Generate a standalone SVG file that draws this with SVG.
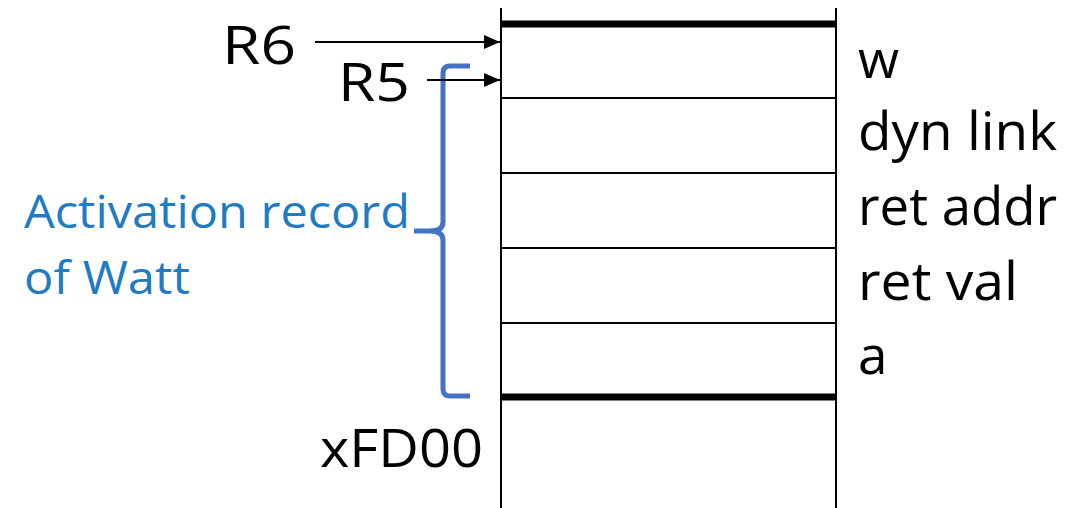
<svg xmlns="http://www.w3.org/2000/svg" width="1087" height="508" viewBox="0 0 1087 508">
<style>
.t{font-family:"Open Sans","Noto Sans","Liberation Sans",sans-serif;font-size:53px;fill:#000}
.b{font-family:"Open Sans","Noto Sans","Liberation Sans",sans-serif;font-size:46px;fill:#1f7bc4}
.thin{stroke:#000;stroke-width:2;fill:none}
.thick{stroke:#000;stroke-width:7;fill:none}
</style>
<defs>
<marker id="ah" markerWidth="16" markerHeight="14" refX="16" refY="7" orient="auto" markerUnits="userSpaceOnUse">
<path d="M0,0 L16,7 L0,14 Z" fill="#000"/>
</marker>
</defs>
<rect width="1087" height="508" fill="#fff"/>
<g id="stack">
<line class="thin" x1="501" y1="8" x2="501" y2="508"/>
<line class="thin" x1="836" y1="8" x2="836" y2="508"/>
<line class="thick" x1="501" y1="24" x2="836" y2="24"/>
<line class="thin" x1="501" y1="98" x2="836" y2="98"/>
<line class="thin" x1="501" y1="173" x2="836" y2="173"/>
<line class="thin" x1="501" y1="248" x2="836" y2="248"/>
<line class="thin" x1="501" y1="323" x2="836" y2="323"/>
<line class="thick" x1="501" y1="397" x2="836" y2="397"/>
</g>
<g id="labels">
<text class="t" x="858" y="78">w</text>
<text class="t" x="858" y="150" textLength="199" lengthAdjust="spacingAndGlyphs">dyn link</text>
<text class="t" x="858" y="225" textLength="199" lengthAdjust="spacingAndGlyphs">ret addr</text>
<text class="t" x="858" y="300" textLength="160" lengthAdjust="spacingAndGlyphs">ret val</text>
<text class="t" x="858" y="374">a</text>
<text class="t" x="222" y="64" textLength="74" lengthAdjust="spacingAndGlyphs">R6</text>
<text class="t" x="338" y="101" textLength="72" lengthAdjust="spacingAndGlyphs">R5</text>
<text class="t" x="320" y="467" textLength="163" lengthAdjust="spacingAndGlyphs">xFD00</text>
</g>
<g id="brace-label">
<path d="M470,66 L450,66 Q443,66 443,73 L443,222 Q443,231 430,231 L414,231 M430,231 Q443,231 443,240 L443,389 Q443,396 450,396 L470,396" fill="none" stroke="#4472c4" stroke-width="5"/>
<text class="b" x="24" y="228" textLength="386" lengthAdjust="spacingAndGlyphs">Activation record</text>
<text class="b" x="24" y="294" textLength="166" lengthAdjust="spacingAndGlyphs">of Watt</text>
</g>
<g id="connectors">
<line class="thin" x1="315" y1="42" x2="500" y2="42" marker-end="url(#ah)"/>
<line class="thin" x1="427" y1="80" x2="500" y2="80" marker-end="url(#ah)"/>
</g>
</svg>
